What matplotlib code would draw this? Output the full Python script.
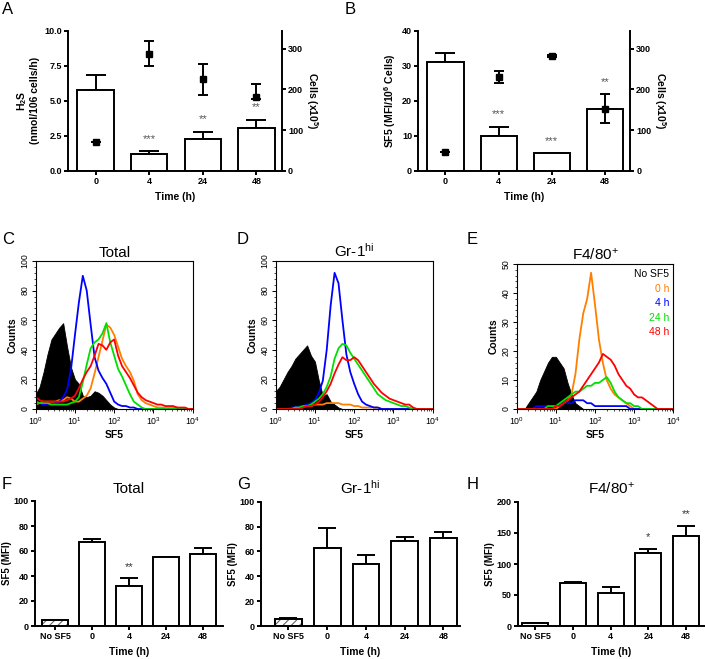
import matplotlib
matplotlib.use('Agg')
import matplotlib.pyplot as plt
import numpy as np
from matplotlib.ticker import MultipleLocator, LogLocator, NullFormatter, LogFormatterMathtext

plt.rcParams['font.family'] = ['Liberation Sans', 'DejaVu Sans']
plt.rcParams['mathtext.fontset'] = 'custom'
plt.rcParams['mathtext.rm'] = 'Liberation Sans'
plt.rcParams['mathtext.bf'] = 'Liberation Sans:bold'
plt.rcParams['mathtext.it'] = 'Liberation Sans:italic'
plt.rcParams['hatch.linewidth'] = 0.8

# ---------------- data ----------------
time_labels = ['0', '4', '24', '48']
h2s = [5.8, 1.2, 2.3, 3.05]
h2s_err = [1.05, 0.2, 0.5, 0.6]
h2s_stars = ['', '***', '**', '**']
h2s_star_on_cells = [False, False, False, False]
cells_A = [70, 288, 225, 182]
cells_A_lo = [0, 31, 38, 6]
cells_A_hi = [0, 31, 38, 31]

sf5_B = [31, 10, 5.1, 17.8]
sf5_B_err = [2.5, 2.6, 0, 0]
sf5_B_stars = ['', '***', '***', '**']
sf5_B_star_on_cells = [False, False, False, True]
cells_B = [46, 231, 282, 152]
cells_B_lo = [0, 16, 3, 35]
cells_B_hi = [0, 14, 3, 36]

# histogram channel positions (log10 decades) and counts
decades = [i / 10 for i in range(41)]
C_black = [10, 15, 25, 37, 47, 51, 55, 58, 42, 28, 20, 17, 9, 8, 9, 12, 11, 9, 6, 3, 1] + [0] * 20
C_orange = [3, 4, 5, 5, 5, 5, 6, 6, 8, 7, 5, 5, 7, 9, 14, 24, 35, 46, 57, 55, 50, 42, 34, 29, 25, 19, 10, 6, 4, 3, 2, 1, 1, 1, 1, 1, 1, 0, 0, 0, 0]
C_blue = [5, 4, 3, 3, 3, 4, 5, 8, 13, 27, 50, 72, 90, 80, 57, 35, 26, 21, 17, 11, 5, 3, 2, 2, 1, 1] + [0] * 15
C_green = [5, 4, 4, 4, 3, 3, 3, 3, 3, 4, 5, 8, 18, 30, 41, 45, 47, 51, 58, 45, 36, 27, 22, 16, 10, 5, 3, 1] + [0] * 13
C_red = [8, 6, 5, 5, 5, 5, 5, 5, 6, 7, 9, 14, 20, 25, 29, 36, 44, 43, 40, 45, 47, 36, 29, 25, 21, 16, 11, 8, 6, 5, 4, 3, 3, 2, 2, 2, 1, 1, 1, 0, 0]

D_black = [12, 15, 20, 25, 29, 34, 37, 40, 43, 36, 32, 19, 9, 10, 5, 3, 1] + [0] * 24
D_orange = [0, 0, 0, 0, 0, 1, 1, 2, 2, 2, 3, 3, 3, 4, 4, 4, 4, 3, 3, 3, 2, 2, 1, 1, 1, 1, 1] + [0] * 14
D_blue = [0, 0, 0, 0, 1, 1, 2, 2, 3, 4, 6, 11, 19, 40, 70, 92, 85, 60, 37, 25, 17, 10, 5, 3, 2, 1, 1] + [0] * 14
D_green = [0, 0, 0, 0, 0, 1, 1, 2, 2, 3, 5, 7, 10, 15, 22, 34, 41, 44, 43, 38, 34, 30, 26, 22, 18, 14, 10, 8, 6, 5, 4, 3, 2, 2, 1, 0, 0, 0, 0, 0, 0]
D_red = [0, 0, 0, 0, 0, 0, 0, 1, 2, 2, 3, 5, 8, 12, 17, 24, 30, 35, 33, 33, 35, 33, 29, 25, 21, 17, 14, 11, 9, 7, 6, 5, 4, 3, 3, 1, 0, 0, 0, 0, 0]

E_black = [0, 0, 0, 2, 4, 6, 10, 13, 16, 18, 18, 16, 14, 9, 5, 2, 1] + [0] * 24
E_orange = [0] * 11 + [1, 2, 3, 5, 12, 24, 33, 38, 47, 36, 24, 16, 10, 7, 5, 4, 3, 2, 1] + [0] * 11
E_blue = [0, 0, 0, 0, 0, 1, 1, 1, 1, 1, 1, 1, 2, 2, 2, 3, 3, 3, 2, 2, 1, 1, 1, 1, 1, 1, 1, 1, 1] + [0] * 12
E_green = [0] * 8 + [1, 1, 1, 2, 3, 4, 5, 6, 6, 7, 8, 8, 9, 9, 10, 11, 9, 6, 4, 3, 2, 2, 1, 1] + [0] * 9
E_red = [0] * 10 + [1, 1, 2, 3, 4, 5, 6, 8, 10, 12, 14, 16, 19, 18, 17, 15, 12, 10, 8, 7, 5, 4, 4, 3, 2, 1] + [0] * 5

legend_labels = ['No SF5', '0 h', '4 h', '24 h', '48 h']
hist_colors = ['black', '#FF7F00', '#0000FF', '#00E000', '#FF0000']

mfi_cats = ['No SF5', '0', '4', '24', '48']
F_vals = [5, 67, 32, 55, 58]
F_err = [0, 3, 6.5, 0, 4.5]
F_stars = ['', '', '**', '', '']
G_vals = [6, 63, 49.5, 68.5, 70.5]
G_err = [0.5, 16, 8, 3, 5]
G_stars = ['', '', '', '', '']
H_vals = [5, 69, 53, 118, 145]
H_err = [0, 2, 9.5, 7, 17]
H_stars = ['', '', '', '*', '**']

# ---------------- figure ----------------
fig = plt.figure(figsize=(7.05, 6.59), dpi=100)
W, Hh = 705, 659


def axes_px(left, top, right, bottom):
    return fig.add_axes([left / W, 1 - bottom / Hh, (right - left) / W, (bottom - top) / Hh])


LW = 1.4
TICKFS = 6.5
LABFS = 7.5
STARFS = 8


def style_bar_axes(ax):
    for s in ['top', 'right']:
        ax.spines[s].set_visible(False)
    for s in ['left', 'bottom']:
        ax.spines[s].set_linewidth(LW)
    ax.tick_params(width=LW, length=3, labelsize=TICKFS, pad=1.5)
    for lab in ax.get_xticklabels() + ax.get_yticklabels():
        lab.set_fontweight('bold')


def dual_panel(ax, vals, errs, stars, star_on_cells, cells, clo, chi, ylim, yticks, yfmt, ylabel):
    x = np.arange(len(vals))
    ax.bar(x, vals, width=0.68, color='white', edgecolor='black', linewidth=LW, zorder=2)
    ax.errorbar(x, vals, yerr=[np.zeros(len(errs)), errs], fmt='none', ecolor='black',
                elinewidth=LW, capsize=7, capthick=LW, zorder=1)
    ax.set_xlim(-0.51, len(vals) - 1 + 0.47)
    ax.set_ylim(*ylim)
    ax.set_yticks(yticks)
    ax.set_yticklabels([yfmt.format(t) for t in yticks])
    ax.set_xticks(x)
    ax.set_xticklabels(time_labels)
    ax.set_xlabel('Time (h)', fontsize=LABFS, fontweight='bold', labelpad=4)
    ax.set_ylabel(ylabel, fontsize=LABFS, fontweight='bold', labelpad=3)
    style_bar_axes(ax)
    ax2 = ax.twinx()
    ax2.set_ylim(0, 344)
    ax2.set_yticks([0, 100, 200, 300])
    ax2.errorbar(x, cells, yerr=[clo, chi], fmt='s', color='black', ms=4.5,
                 ecolor='black', elinewidth=LW, capsize=3.5, capthick=LW, zorder=3)
    for s in ['top', 'left', 'bottom']:
        ax2.spines[s].set_visible(False)
    ax2.spines['right'].set_linewidth(LW)
    ax2.tick_params(width=LW, length=3, labelsize=TICKFS, pad=1.5)
    for lab in ax2.get_yticklabels():
        lab.set_fontweight('bold')
    ax2.set_ylabel('Cells (x10$^{\\mathbf{5}}$)', fontsize=LABFS, fontweight='bold',
                   rotation=270, labelpad=12)
    scale = (ylim[1] - ylim[0]) / 344
    for xi, v, e, c, ch, st, oc in zip(x, vals, errs, cells, chi, stars, star_on_cells):
        if st:
            top = (c + ch) * scale if oc else v + e
            ax.annotate(st, (xi, top), xytext=(0, 9), textcoords='offset points',
                        ha='center', va='center', fontsize=STARFS, color='#555555')
    return ax2


# Panel A
axA = axes_px(68.3, 30.7, 281.7, 171)
dual_panel(axA, h2s, h2s_err, h2s_stars, h2s_star_on_cells, cells_A, cells_A_lo, cells_A_hi,
           (0, 10), [0, 2.5, 5, 7.5, 10], '{:.1f}', 'H$_{\\mathbf{2}}$S\n(nmol/106 cells/h)')

# Panel B
axB = axes_px(418.3, 30.7, 630, 171)
dual_panel(axB, sf5_B, sf5_B_err, sf5_B_stars, sf5_B_star_on_cells, cells_B, cells_B_lo, cells_B_hi,
           (0, 40), [0, 10, 20, 30, 40], '{:.0f}', 'SF5 (MFI/10$^{\\mathbf{6}}$ Cells)')


# Histograms
def hist_panel(ax, curves, ymax, ymajor, yminor, title):
    xs = [10 ** d for d in decades]
    ax.fill_between(xs, 0, curves[0], color='black', linewidth=0.6, edgecolor='black', zorder=1)
    for cv, col in zip(curves[1:], hist_colors[1:]):
        ax.plot(xs, cv, color=col, lw=1.3, zorder=2)
    ax.set_xscale('log')
    ax.set_xlim(1, 1e4)
    ax.set_ylim(0, ymax)
    ax.xaxis.set_major_locator(LogLocator(base=10, numticks=10))
    ax.xaxis.set_major_formatter(LogFormatterMathtext())
    ax.xaxis.set_minor_locator(LogLocator(base=10, subs=np.arange(2, 10), numticks=20))
    ax.xaxis.set_minor_formatter(NullFormatter())
    ax.yaxis.set_major_locator(MultipleLocator(ymajor))
    ax.yaxis.set_minor_locator(MultipleLocator(yminor))
    ax.tick_params(which='major', length=3, width=0.7, labelsize=6.3, pad=1.5)
    ax.tick_params(which='minor', length=1.5, width=0.5)
    for lab in ax.get_yticklabels():
        lab.set_rotation(90)
        lab.set_va('center')
    for s in ax.spines.values():
        s.set_linewidth(0.8)
    ax.set_xlabel('SF5', fontsize=LABFS, fontweight='bold', labelpad=2)
    ax.set_ylabel('Counts', fontsize=LABFS, fontweight='bold', labelpad=2)
    ax.set_title(title, fontsize=11, pad=3)


axC = axes_px(35.7, 261, 192.7, 409)
hist_panel(axC, [C_black, C_orange, C_blue, C_green, C_red], 100, 20, 4, 'Total')
axD = axes_px(275.7, 261, 432.7, 409)
hist_panel(axD, [D_black, D_orange, D_blue, D_green, D_red], 100, 20, 4, 'Gr-1$^{\\mathrm{hi}}$')
axE = axes_px(516.7, 264, 673.3, 409)
hist_panel(axE, [E_black, E_orange, E_blue, E_green, E_red], 50, 10, 2, 'F4/80$^{+}$')
for i, (lab, col) in enumerate(zip(legend_labels, hist_colors)):
    axE.text(0.975, 0.965 - i * 0.1, lab, transform=axE.transAxes, ha='right', va='top',
             fontsize=7.5, color=col)


# MFI bars
def mfi_panel(ax, vals, errs, stars, xlim, ylim, yticks, title, hatch_first):
    x = np.arange(len(vals))
    ax.bar(x, vals, width=0.69, color='white', edgecolor='black', linewidth=LW, zorder=2)
    if hatch_first:
        ax.bar(x[0], vals[0], width=0.69, color='white', edgecolor='#666666', hatch='////',
               linewidth=0, zorder=2.5)
        ax.bar(x[0], vals[0], width=0.69, color='none', edgecolor='black', linewidth=LW, zorder=3)
    ax.errorbar(x, vals, yerr=[np.zeros(len(errs)), errs], fmt='none', ecolor='black',
                elinewidth=LW, capsize=6.5, capthick=LW, zorder=1)
    for xi, v, e, st in zip(x, vals, errs, stars):
        if st:
            ax.annotate(st, (xi, v + e), xytext=(0, 8), textcoords='offset points',
                        ha='center', va='center', fontsize=STARFS, color='#333333')
    ax.set_xlim(*xlim)
    ax.set_ylim(*ylim)
    ax.set_yticks(yticks)
    ax.set_xticks(x)
    ax.set_xticklabels(mfi_cats)
    ax.set_xlabel('Time (h)', fontsize=LABFS, fontweight='bold', labelpad=4)
    ax.set_ylabel('SF5 (MFI)', fontsize=LABFS - 0.5, fontweight='bold', labelpad=1)
    ax.set_title(title, fontsize=11, pad=6)
    style_bar_axes(ax)


axF = axes_px(35, 501, 222.7, 626)
mfi_panel(axF, F_vals, F_err, F_stars, (-0.54, 4.53), (0, 100), [0, 20, 40, 60, 80, 100], 'Total', True)
axG = axes_px(261, 501.7, 460, 626)
mfi_panel(axG, G_vals, G_err, G_stars, (-0.71, 4.43), (0, 100), [0, 20, 40, 60, 80, 100], 'Gr-1$^{\\mathrm{hi}}$', True)
axH = axes_px(517.7, 502, 705, 626)
mfi_panel(axH, H_vals, H_err, H_stars, (-0.46, 4.5), (0, 200), [0, 50, 100, 150, 200], 'F4/80$^{+}$', False)

# panel letters
for lab, (px, py) in zip('ABCDEFGH', [(2, 2), (345, 2), (2, 232), (237, 232), (467, 232),
                                       (2, 477), (237, 477), (467, 477)]):
    fig.text(px / W, 1 - py / Hh, lab, fontsize=12, ha='left', va='top')

fig.savefig('out.png', dpi=100)
